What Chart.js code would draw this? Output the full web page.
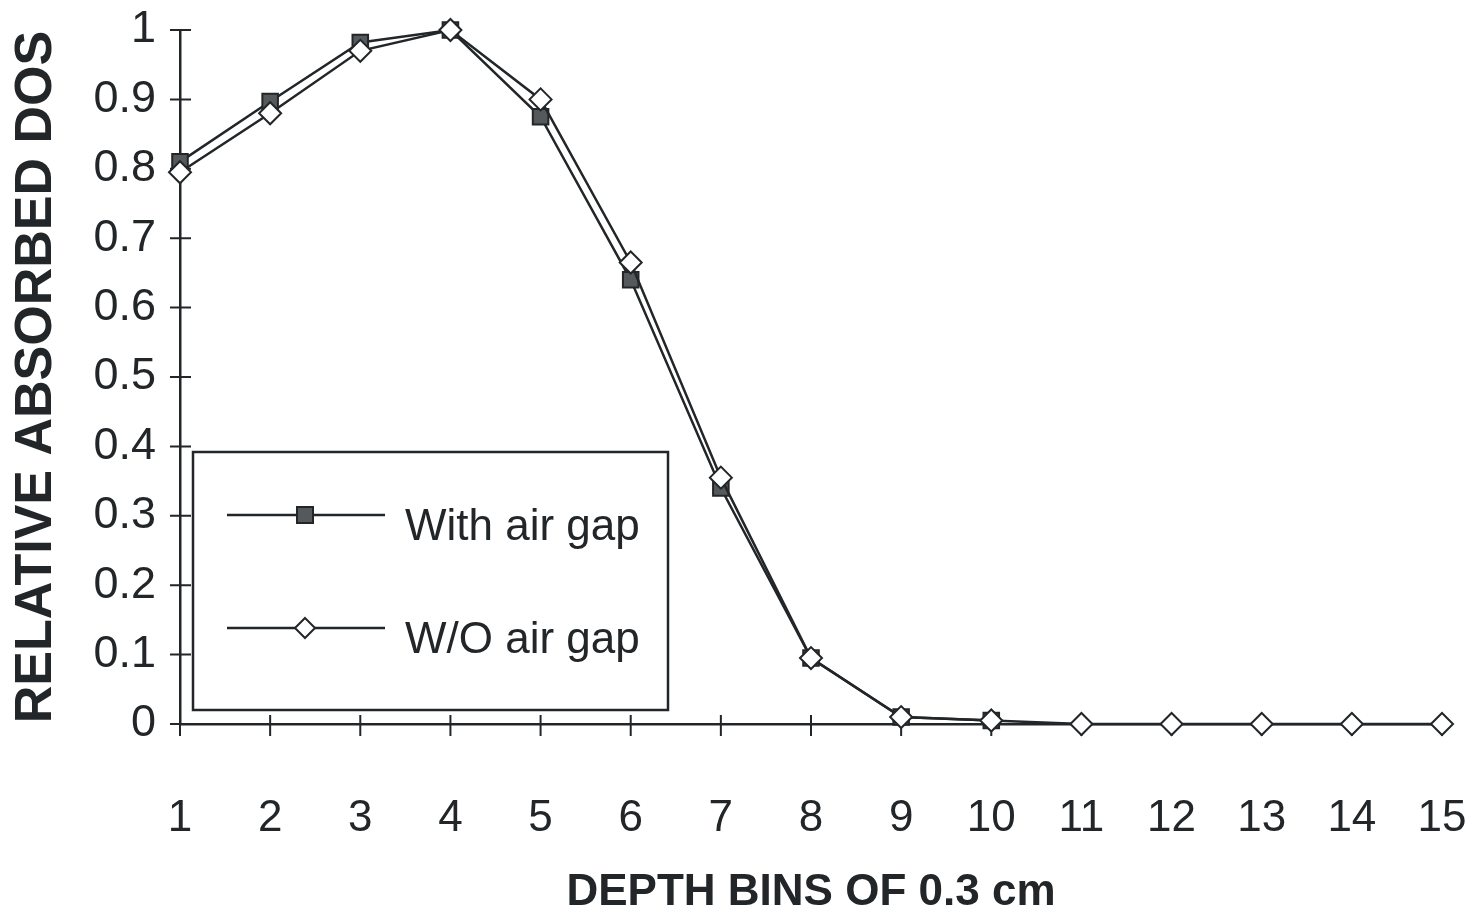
<!DOCTYPE html>
<html>
<head>
<meta charset="utf-8">
<script src="https://cdn.jsdelivr.net/npm/chart.js@4.4.1/dist/chart.umd.min.js"></script>
<style>
  html, body { margin: 0; padding: 0; background: #fff; }
</style>
</head>
<body>
<canvas id="doseChart" width="1476" height="919"></canvas>
<script>
// depth bins (x categories) and relative dose
const depthBins = ['1', '2', '3', '4', '5', '6', '7', '8', '9', '10', '11', '12', '13', '14', '15'];
const withAirGap = [0.81, 0.897, 0.982, 1.0, 0.875, 0.64, 0.34, 0.095, 0.01, 0.005, null, null, null, null, null];
const withoutAirGap = [0.795, 0.88, 0.97, 1.0, 0.9, 0.665, 0.355, 0.095, 0.01, 0.005, 0, 0, 0, 0, 0];
const seriesNames = ['With air gap', 'W/O air gap'];

const ink = '#222628';
const fontFamily = "'Liberation Sans', Arial, sans-serif";

// tick marks crossing both axes, like the old spreadsheet plot
const crossTicks = {
  id: 'crossTicks',
  beforeDatasetsDraw(chart) {
    const { ctx, scales: { x, y } } = chart;
    ctx.save();
    ctx.strokeStyle = ink;
    ctx.lineWidth = 2;
    ctx.beginPath();
    y.ticks.forEach((t, i) => {
      const py = y.getPixelForTick(i);
      ctx.moveTo(x.left - 10, py);
      ctx.lineTo(x.left + 11, py);
    });
    x.ticks.forEach((t, i) => {
      const px = x.getPixelForTick(i);
      ctx.moveTo(px, y.bottom - 9);
      ctx.lineTo(px, y.bottom + 12);
    });
    ctx.stroke();
    ctx.restore();
  }
};

// boxed legend sitting inside the plot area
const boxLegend = {
  id: 'boxLegend',
  afterDraw(chart) {
    const ctx = chart.ctx;
    ctx.save();
    ctx.strokeStyle = ink;
    ctx.lineWidth = 2.5;
    ctx.strokeRect(193, 452, 475, 258);

    const rows = [515, 628];
    chart.data.datasets.forEach((ds, i) => {
      const ly = rows[i];
      ctx.beginPath();
      ctx.lineWidth = 2.5;
      ctx.strokeStyle = ink;
      ctx.moveTo(227, ly);
      ctx.lineTo(385, ly);
      ctx.stroke();

      ctx.beginPath();
      if (ds.pointStyle === 'rect') {
        ctx.rect(297, ly - 8, 16, 16);
      } else {
        ctx.moveTo(305, ly - 10);
        ctx.lineTo(315, ly);
        ctx.lineTo(305, ly + 10);
        ctx.lineTo(295, ly);
        ctx.closePath();
      }
      ctx.fillStyle = ds.pointBackgroundColor;
      ctx.fill();
      ctx.lineWidth = 2;
      ctx.stroke();

      ctx.fillStyle = ink;
      ctx.font = '44px ' + fontFamily;
      ctx.textAlign = 'left';
      ctx.textBaseline = 'middle';
      ctx.fillText(ds.label, 405, ly + 13);
    });
    ctx.restore();
  }
};

new Chart(document.getElementById('doseChart').getContext('2d'), {
  type: 'line',
  data: {
    labels: depthBins,
    datasets: [{
      label: seriesNames[0],
      data: withAirGap,
      borderColor: ink,
      borderWidth: 2.5,
      pointStyle: 'rect',
      pointRadius: 11,
      pointBackgroundColor: '#55595b',
      pointBorderColor: ink,
      pointBorderWidth: 2,
      tension: 0,
      spanGaps: false,
      clip: false,
      order: 1
    },
    {
      label: seriesNames[1],
      data: withoutAirGap,
      borderColor: ink,
      borderWidth: 2.5,
      pointStyle: 'rectRot',
      pointRadius: 11,
      pointBackgroundColor: '#ffffff',
      pointBorderColor: ink,
      pointBorderWidth: 2,
      tension: 0,
      clip: false,
      order: 0
    }]
  },
  options: {
    responsive: false,
    animation: false,
    layout: {
      padding: { top: 30, right: 34, left: 0, bottom: 0 }
    },
    scales: {
      x: {
        offset: false,
        grid: { display: false, drawTicks: false },
        border: { display: true, color: ink, width: 2.5 },
        ticks: {
          color: ink,
          padding: 68,
          maxRotation: 0,
          font: { family: fontFamily, size: 44 }
        },
        title: {
          display: true,
          text: 'DEPTH BINS OF 0.3 cm',
          color: ink,
          padding: { top: 3, bottom: 0 },
          font: { family: fontFamily, size: 44, weight: 'bold', lineHeight: 1.2 }
        },
        afterFit(scale) {
          scale.height = 195;
          scale.paddingLeft = 0;
          scale.paddingRight = 0;
        }
      },
      y: {
        min: 0,
        max: 1,
        grid: { display: false, drawTicks: false },
        border: { display: true, color: ink, width: 2.5 },
        ticks: {
          stepSize: 0.1,
          color: ink,
          padding: 24,
          font: { family: fontFamily, size: 45 },
          callback: (v) => String(Math.round(v * 10) / 10)
        },
        title: {
          display: true,
          text: 'RELATIVE ABSORBED DOS',
          color: ink,
          padding: { top: 5, bottom: 0 },
          font: { family: fontFamily, size: 52, weight: 'bold', lineHeight: 1.2 }
        },
        afterFit(scale) {
          scale.width = 180;
          scale.paddingTop = 0;
          scale.paddingBottom = 0;
        }
      }
    },
    plugins: {
      legend: { display: false },
      tooltip: { enabled: false }
    }
  },
  plugins: [crossTicks, boxLegend]
});
</script>
</body>
</html>
